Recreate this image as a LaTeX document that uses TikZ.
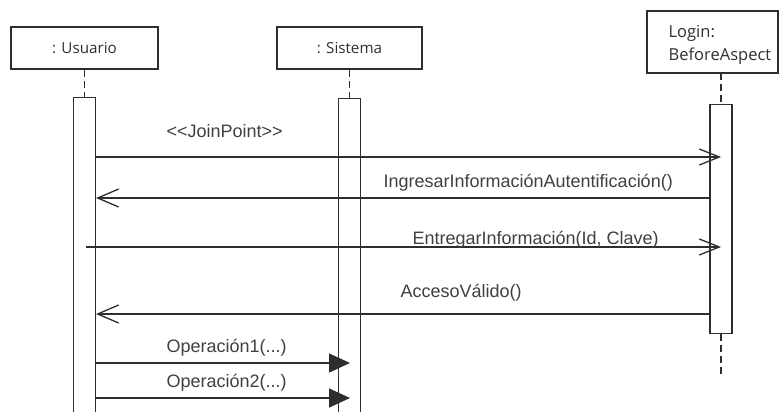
\documentclass[tikz,border=0pt]{standalone}
\usepackage{fontspec}
\setmainfont{Liberation Sans}
\newfontfamily\boxfont{Open Sans}
\usetikzlibrary{arrows.meta}
\definecolor{ln}{HTML}{2E2E2E}
\definecolor{tx}{HTML}{404040}
\definecolor{bx}{HTML}{303030}
\begin{document}
\begin{tikzpicture}[x=1pt,y=-1pt,line width=1.3pt,
  objbox/.style={draw=ln,fill=white,inner sep=0pt,font=\boxfont\fontsize{15.2}{17}\selectfont,text=bx},
  logintxt/.style={inner sep=0pt,font=\boxfont\fontsize{16.5}{19}\selectfont,text=bx},
  actbox/.style={draw=ln,fill=white,inner sep=0pt,minimum width=22pt},
  lifeline/.style={draw=ln,dash pattern=on 7pt off 4pt},
  msglbl/.style={font=\fontsize{18}{20}\selectfont,text=tx,inner sep=0pt},
  callmsg/.style={draw=ln,-{Straight Barb[length=20pt,width=16pt,line width=1.3pt]}},
  retmsg/.style={draw=ln,-{Straight Barb[length=21pt,width=18pt,line width=1.3pt]}},
  syncmsg/.style={draw=ln,-{Triangle[length=21pt,width=19pt]},fill=black}]
\useasboundingbox (0,0) rectangle (779,412);
\fill[white] (0,0) rectangle (779,412);
% object boxes
\node[objbox,minimum width=147pt,minimum height=42pt] (usuario) at (84.5,48) {: Usuario};
\node[objbox,minimum width=145pt,minimum height=42pt] (sistema) at (349.5,48) {: Sistema};
\node[objbox,minimum width=131pt,minimum height=62pt] (login) at (712.5,42) {};
\node[logintxt,anchor=base west] (loginA) at (668,38) {Login:};
\node[logintxt,anchor=base west] (loginB) at (668,60) {BeforeAspect};
% activation bars
\node[actbox,minimum height=330pt,anchor=north] (uact) at (84.5,97) {};
\node[actbox,minimum height=330pt,anchor=north] (sact) at (349.5,98) {};
\node[actbox,minimum height=229pt,anchor=north] (lact) at (721,104) {};
% lifelines
\coordinate (lTop) at (721,73);
\coordinate (lEnd) at (721,377);
\draw[lifeline] (usuario.south) -- (uact.north);
\draw[lifeline] (sistema.south) -- (sact.north);
\draw[lifeline] (lTop) -- (lact.north);
\draw[lifeline] (lact.south) -- (lEnd);
% message end points
\coordinate (m1s) at (96,157);  \coordinate (m1e) at (721,157);
\coordinate (m2s) at (710,198); \coordinate (m2e) at (96,198);
\coordinate (m3s) at (86,247);  \coordinate (m3e) at (721,247);
\coordinate (m4s) at (710,314); \coordinate (m4e) at (96,314);
\coordinate (m5s) at (96,363);  \coordinate (m5e) at (350,363);
\coordinate (m6s) at (96,398);  \coordinate (m6e) at (350,398);
% messages
\draw[callmsg] (m1s) -- (m1e);
\draw[retmsg] (m2s) -- (m2e);
\draw[callmsg] (m3s) -- (m3e);
\draw[retmsg] (m4s) -- (m4e);
\draw[syncmsg] (m5s) -- (m5e);
\draw[syncmsg] (m6s) -- (m6e);
% labels
\node[msglbl,anchor=base west] (l1) at (166,137) {<\kern0pt<JoinPoint>\kern0pt>};
\node[msglbl,anchor=base west] (l2) at (383,187) {IngresarInformaciónAutentificación()};
\node[msglbl,anchor=base west] (l3) at (412,244) {EntregarInformación(Id, Clave)};
\node[msglbl,anchor=base west] (l4) at (400,297) {AccesoVálido()};
\node[msglbl,anchor=base west] (l5) at (166,352) {Operación1(...)};
\node[msglbl,anchor=base west] (l6) at (166,387) {Operación2(...)};
\end{tikzpicture}
\end{document}
